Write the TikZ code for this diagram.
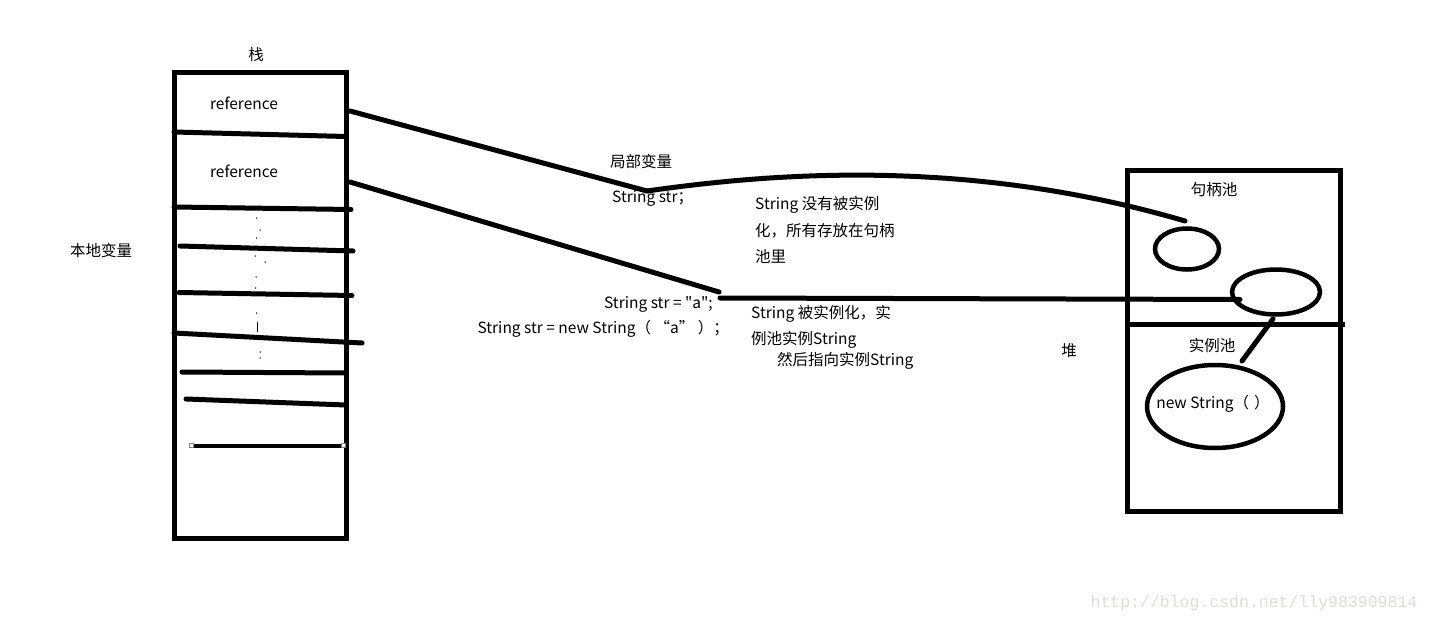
\documentclass[tikz,border=0pt]{standalone}
\usepackage{fontspec}
\setmainfont{Noto Sans CJK SC}[Ligatures=TeXOff]
\newfontfamily\wmfont{Liberation Mono}
\usetikzlibrary{shapes.geometric}
\definecolor{wmgray}{RGB}{222,222,216}
\tikzset{
  thick line/.style={line width=5pt, line cap=round},
  boxline/.style={line width=5pt},
  txt/.style={inner sep=0pt, font=\fontsize{15.5}{18}\selectfont},
  pool/.style={ellipse, draw, line width=4.5pt, inner sep=0pt},
  speck/.style={fill=black, inner sep=0pt, minimum size=1.5pt, circle},
  handle/.style={draw=gray, fill=white, line width=0.6pt, inner sep=0pt, minimum size=4pt, rectangle},
}
\begin{document}
\begin{tikzpicture}[x=1pt,y=-1pt]
\useasboundingbox (0,0) rectangle (1430,623);
\fill[white] (0,0) rectangle (1430,623);

% ---- stack ----
\node[txt] (stacklabel) at (256,55) {栈};
\draw[boxline] (174.5,72.5) rectangle (346.5,538.5);
\node[txt] (ref1) at (244,103) {reference};
\node[txt] (ref2) at (244,171) {reference};
\node[txt] (localvar) at (101,251) {本地变量};

\draw[thick line] (174,132) -- (346,136.5);
\draw[thick line] (174,207) -- (351,209.5);
\draw[thick line] (180,246) -- (353,251);
\draw[thick line] (179,292.5) -- (352,295.5);
\draw[thick line] (174,333) -- (362,343);
\draw[thick line] (182,372) -- (346,373);
\draw[thick line] (186,399) -- (346,405);
\draw[line width=4pt] (191,445.5) -- (343,445.5);
\node[handle] (h1) at (191,445.5) {};
\node[handle] (h2) at (343,445.5) {};

% specks
\foreach \p in {(256.7,218),(260,230),(256.7,238),(255,256),(265,262),(256,277),(255.7,288),(256.7,313),(260,352),(260,358)}
  \node[speck] at \p {};
\draw[line width=1pt] (257.3,322) -- (257.3,332);

% ---- heap ----
\draw[boxline] (1127.5,170.5) rectangle (1340,511.5);
\draw[boxline] (1127.5,324) -- (1345,324);
\node[txt] (handlepool) at (1214,190) {句柄池};
\node[txt] (instpool) at (1212,346) {实例池};
\node[txt] (heap) at (1069,351) {堆};

\node[pool, minimum width=64pt, minimum height=41pt] (e1) at (1187,249) {};
\node[pool, minimum width=88pt, minimum height=45pt] (e2) at (1276,292) {};
\node[pool, minimum width=136pt, minimum height=83pt] (e3) at (1215,406.5) {};
\node[txt] (newstr) at (1213,404) {new String（\,\,）};

% ---- middle texts ----
\node[txt] (local) at (641,162) {局部变量};
\node[txt, anchor=west] (decl) at (612,198) {String str；};
\node[txt, anchor=east] (lit) at (713,304) {String str = "a";};
\node[txt, anchor=east] (newlit) at (729,329) {String str = new String（ “a” ）；};

\node[txt, anchor=west] (n1a) at (755,205) {String 没有被实例};
\node[txt, anchor=west] (n1b) at (755,231) {化，所有存放在句柄};
\node[txt, anchor=west] (n1c) at (755,257) {池里};

\node[txt, anchor=west] (n2a) at (751,314) {String 被实例化，实};
\node[txt, anchor=west] (n2b) at (751,340) {例池实例String};
\node[txt, anchor=west] (n2c) at (777,361) {然后指向实例String};

% ---- connectors ----
\coordinate (r1out) at (350,111);
\coordinate (r2out) at (350,182);
\coordinate (kink1) at (647,191);
\coordinate (kink2) at (719,292);
\coordinate (e1tip) at (1185,221);
\coordinate (e2tip) at (1240,299.5);
\coordinate (e2low) at (1273,319);
\coordinate (e3top) at (1242,361);

\draw[thick line] (r1out) -- (kink1);
\draw[thick line] (kink1) .. controls (760,175) and (960,155) .. (e1tip);
\draw[thick line] (r2out) -- (kink2);
\draw[thick line] (720,298) -- (e2tip);
\draw[thick line] (e2low) -- (e3top);

% watermark
\node[inner sep=0pt, text=wmgray, font=\wmfont\fontsize{16.5}{18}\selectfont] (wm) at (1254,603) {http://blog.csdn.net/lly983909814};
\end{tikzpicture}
\end{document}
